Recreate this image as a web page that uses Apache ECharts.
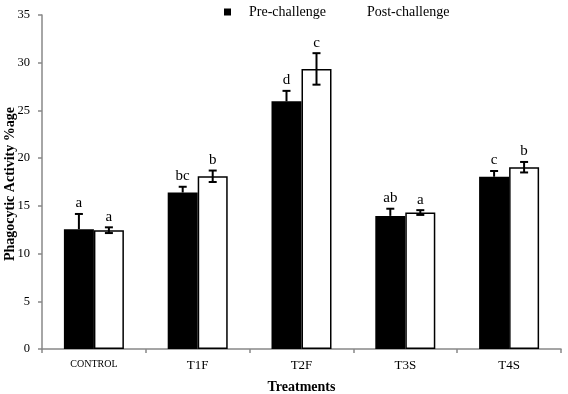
<!DOCTYPE html>
<html>
<head>
<meta charset="utf-8">
<script src="https://cdn.jsdelivr.net/npm/echarts@6/dist/echarts.min.js"></script>
<style>html,body{margin:0;padding:0;background:#fff}#c{width:568px;height:394px}</style>
</head>
<body>
<div id="c"></div>
<script>
const categories = ['CONTROL', 'T1F', 'T2F', 'T3S', 'T4S'];
const preValues = [12.55, 16.4, 25.95, 13.95, 18.05];
const preErrors = [1.6, 0.6, 1.1, 0.75, 0.6];
const postValues = [12.45, 18.1, 29.35, 14.3, 19.05];
const postErrors = [0.3, 0.6, 1.65, 0.25, 0.55];
const preLetters = ['a', 'bc', 'd', 'ab', 'c'];
const postLetters = ['a', 'b', 'c', 'a', 'b'];
const yTicks = [0, 5, 10, 15, 20, 25, 30, 35];
const yTitle = 'Phagocytic Activity %age';

const FONT = '"Liberation Serif", "Times New Roman", serif';
const BAR_W = 30;

function errSeries(name, values, errors, letters, side, showLower) {
  return {
    type: 'custom',
    name: name + ' err',
    z: 5,
    data: values.map((v, i) => [i, v, errors[i]]),
    renderItem: function (params, api) {
      const idx = api.value(0);
      const v = api.value(1);
      const e = api.value(2);
      const letter = letters[params.dataIndex];
      const c = api.coord([idx, v]);
      const x = c[0] + side * BAR_W / 2;
      const top = api.coord([idx, v + e])[1];
      const bot = showLower ? api.coord([idx, v - e])[1] : c[1];
      const cap = 4;
      const st = { stroke: '#000', lineWidth: 2 };
      const children = [
        { type: 'line', shape: { x1: x, y1: top, x2: x, y2: bot }, style: st },
        { type: 'line', shape: { x1: x - cap, y1: top, x2: x + cap, y2: top }, style: st }
      ];
      if (showLower) {
        children.push({ type: 'line', shape: { x1: x - cap, y1: bot, x2: x + cap, y2: bot }, style: st });
      }
      children.push({
        type: 'text',
        style: {
          text: letter, x: x, y: top - 3,
          align: 'center', verticalAlign: 'bottom',
          font: '15px ' + FONT, fill: '#000'
        }
      });
      return { type: 'group', children: children };
    }
  };
}

const chart = echarts.init(document.getElementById('c'), null, { renderer: 'canvas' });
chart.setOption({
  animation: false,
  backgroundColor: '#fff',
  textStyle: { fontFamily: FONT },
  grid: { left: 42, right: 7, top: 15, bottom: 45, containLabel: false, outerBoundsMode: 'none' },
  legend: {
    left: 219, top: 0,
    itemWidth: 7, itemHeight: 7, itemGap: 16,
    icon: 'rect',
    textStyle: { fontFamily: FONT, fontSize: 14, color: '#000', padding: [0, 0, 0, 13] },
    data: [
      { name: 'Pre-challenge', itemStyle: { color: '#000', borderWidth: 0 } },
      { name: 'Post-challenge', itemStyle: { color: '#fff', borderWidth: 0 } }
    ],
    selectedMode: false
  },
  xAxis: {
    type: 'category',
    data: categories,
    name: 'Treatments',
    nameLocation: 'middle',
    nameGap: 31,
    nameTextStyle: { fontFamily: FONT, fontSize: 14, fontWeight: 'bold', color: '#000' },
    axisLine: { lineStyle: { color: '#888', width: 1.5 } },
    axisTick: { show: true, length: 4, alignWithLabel: false, lineStyle: { color: '#888', width: 1.5 } },
    axisLabel: {
      fontFamily: FONT, color: '#000', margin: 10,
      formatter: function (v) { return v === 'CONTROL' ? '{s|' + v + '}' : '{n|' + v + '}'; },
      rich: { s: { fontSize: 10, fontFamily: FONT, color: '#000' }, n: { fontSize: 13, fontFamily: FONT, color: '#000' } }
    }
  },
  yAxis: {
    type: 'value',
    min: yTicks[0], max: yTicks[yTicks.length - 1], interval: 5,
    axisLine: { show: true, lineStyle: { color: '#888', width: 1.5 } },
    axisTick: { show: true, length: 4, lineStyle: { color: '#888', width: 1.5 } },
    splitLine: { show: false },
    axisLabel: { fontFamily: FONT, fontSize: 12.5, color: '#000', margin: 12 }
  },
  graphic: [{
    type: 'text',
    rotation: Math.PI / 2,
    x: 10, y: 184,
    style: {
      text: yTitle,
      font: 'bold 14px ' + FONT, fill: '#000',
      align: 'center', verticalAlign: 'middle'
    }
  }],
  series: [
    {
      type: 'bar', name: 'Pre-challenge', data: preValues,
      barWidth: BAR_W, barGap: '0%',
      itemStyle: { color: '#000', borderColor: '#000', borderWidth: 0 }
    },
    {
      type: 'bar', name: 'Post-challenge', data: postValues,
      barWidth: BAR_W, barGap: '0%',
      itemStyle: { color: '#fff', borderColor: '#000', borderWidth: 1.5 }
    },
    errSeries('Pre', preValues, preErrors, preLetters, -1, false),
    errSeries('Post', postValues, postErrors, postLetters, 1, true)
  ]
});
</script>
</body>
</html>
